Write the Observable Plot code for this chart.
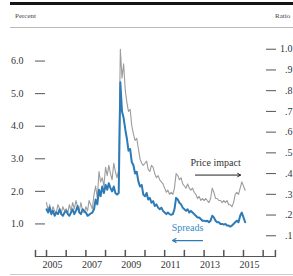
<!DOCTYPE html>
<html><head><meta charset="utf-8">
<script src="https://cdn.jsdelivr.net/npm/d3@7"></script>
<script src="https://cdn.jsdelivr.net/npm/@observablehq/plot@0.6"></script>
<style>
body{margin:0;background:#fff;overflow:hidden;font-family:"Liberation Serif",serif;}
#wrap{position:relative;width:293px;height:276px;overflow:hidden;}
.hdr{position:relative;height:28px;}
.abs{position:absolute;}
</style></head><body>
<div id="wrap">
  <div class="hdr">
    <div class="abs" style="left:10px;right:0;top:2px;height:3px;background:#151515"></div>
    <div class="abs" style="left:15px;top:12px;font-size:7px;color:#444">Percent</div>
    <div class="abs" style="left:275px;top:12px;font-size:7px;color:#444;white-space:nowrap">Ratio</div>
    <div class="abs" style="left:10px;right:0;top:27px;height:1px;background:#bbb"></div>
  </div>
  <div id="chart"></div>
  <div class="abs" style="left:10px;right:0;top:274px;height:1px;background:#ccc"></div>
</div>
<script>
// Monthly data, Jan 2005 – Feb 2015
const startYear = 2005;
const spreads = [
  1.45,1.35,1.50,1.30,1.40,1.25,1.35,1.30,1.45,1.30,1.25,1.35,
  1.40,1.30,1.25,1.35,1.45,1.30,1.40,1.55,1.35,1.30,1.45,1.40,
  1.35,1.25,1.28,1.32,1.35,1.45,1.75,1.60,2.05,1.85,2.15,1.95,
  2.20,2.05,2.25,2.10,2.00,2.15,1.95,1.90,1.95,5.35,4.45,4.25,
  3.90,3.60,3.25,3.30,2.90,2.80,2.55,2.60,2.30,2.15,2.20,1.90,
  1.85,1.95,1.75,1.80,1.65,1.70,1.55,1.60,1.50,1.45,1.50,1.40,
  1.35,1.30,1.35,1.30,1.28,1.30,1.45,1.80,1.75,1.65,1.60,1.50,
  1.45,1.40,1.45,1.35,1.40,1.35,1.30,1.25,1.20,1.20,1.15,1.10,
  1.10,1.08,1.10,1.05,1.10,1.25,1.20,1.10,1.05,1.05,1.00,1.00,
  0.98,1.00,0.95,0.95,0.92,0.95,1.00,1.05,1.10,1.05,1.25,1.35,
  1.20,1.05
];
const priceImpact = [
  0.26,0.22,0.25,0.21,0.24,0.22,0.21,0.25,0.23,0.21,0.24,0.22,
  0.23,0.21,0.25,0.22,0.26,0.23,0.27,0.24,0.22,0.26,0.22,0.21,
  0.24,0.22,0.27,0.25,0.23,0.30,0.34,0.28,0.41,0.36,0.38,0.34,
  0.43,0.39,0.44,0.40,0.37,0.45,0.41,0.38,0.42,1.00,0.86,0.93,
  0.80,0.74,0.70,0.71,0.63,0.59,0.56,0.57,0.52,0.47,0.45,0.44,
  0.45,0.46,0.42,0.41,0.44,0.43,0.40,0.38,0.39,0.37,0.36,0.35,
  0.33,0.31,0.32,0.30,0.31,0.30,0.33,0.40,0.39,0.37,0.38,0.35,
  0.34,0.33,0.35,0.33,0.32,0.33,0.31,0.30,0.28,0.29,0.27,0.28,
  0.27,0.28,0.27,0.26,0.28,0.33,0.31,0.28,0.28,0.27,0.27,0.26,
  0.27,0.26,0.27,0.25,0.25,0.24,0.26,0.30,0.31,0.30,0.33,0.36,
  0.34,0.32
];
const leftTicks = [1, 2, 3, 4, 5, 6];
const rightTicks = [0.1,0.2,0.3,0.4,0.5,0.6,0.7,0.8,0.9,1.0];
const yearTicks = [2005,2006,2007,2008,2009,2010,2011,2012,2013,2014,2015,2016];
const labelYears = [2005,2007,2009,2011,2013,2015];
const seriesLabels = ["Price impact", "Spreads"];

const PCT_MAX = 7, RATIO_MAX = 1.1;
const toPct = r => r * PCT_MAX / RATIO_MAX;
const toRatio = p => p * RATIO_MAX / PCT_MAX;
const month = i => new Date(Date.UTC(startYear, i, 1));
const frac = f => new Date(Date.UTC(2005,0,1) + (f - 2005) * 365.25 * 864e5);
const yr = y => new Date(Date.UTC(y, 0, 1));

const table = spreads.map((v, i) => ({date: month(i), spreads: v, price: toPct(priceImpact[i])}));

const axisEnds = [frac(2004.44), frac(2016.62)];
const upTick = {draw(ctx, l) { ctx.moveTo(0, 0); ctx.lineTo(0, -l); }};
const fmtRatio = p => { const r = toRatio(p); return r > 0.95 ? "1.0" : d3.format(".1f")(r).replace(/^0/, ""); };

const blue = "#2c7bb6";
const gray = "#9c9c9c";

const chart = Plot.plot({
  width: 293, height: 248,
  marginTop: 0, marginBottom: 20, marginLeft: 45, marginRight: 28,
  style: {fontFamily: '"Liberation Serif", serif', fontSize: "10px", color: "#333", background: "#fff"},
  x: {type: "utc", domain: [frac(2004.949), frac(2016.117)]},
  y: {domain: [0, PCT_MAX]},
  marks: [
    Plot.ruleY([0], {x1: axisEnds[0], x2: axisEnds[1], stroke: "#555"}),
    Plot.vector([...yearTicks.map(yr), ...axisEnds], {x: d => d, y: 0, length: 6, rotate: 0, anchor: "start", shape: upTick, stroke: "#555"}),
    Plot.axisX(labelYears.map(yr), {tickSize: 0, tickPadding: 4, dx: 6, tickFormat: "%Y", fontSize: 10}),
    Plot.axisY(leftTicks, {anchor: "left", tickSize: 10, tickPadding: 12, tickFormat: d3.format(".1f"), stroke: "#555", label: null}),
    Plot.axisY(rightTicks.map(toPct), {anchor: "right", tickSize: 10, tickPadding: 17, textAnchor: "end", tickFormat: fmtRatio, stroke: "#555", label: null}),
    Plot.line(table, {x: "date", y: "price", stroke: gray, strokeWidth: 1.1}),
    Plot.line(table, {x: "date", y: "spreads", stroke: blue, strokeWidth: 2}),
    Plot.text([seriesLabels[0]], {x: frac(2013.58), y: 2.87, text: d => d, fill: "#333", fontSize: 10}),
    Plot.arrow([0], {x1: frac(2012.56), x2: frac(2014.85), y1: 2.5, y2: 2.5, stroke: "#222", headLength: 5, strokeWidth: 1}),
    Plot.text([seriesLabels[1]], {x: frac(2012.16), y: 0.89, text: d => d, fill: "#3a8cc6", fontSize: 10}),
    Plot.arrow([0], {x1: frac(2012.92), x2: frac(2011.4), y1: 0.49, y2: 0.49, stroke: blue, headLength: 5, strokeWidth: 1.2})
  ]
});
document.getElementById("chart").appendChild(chart);
</script>
</body></html>
